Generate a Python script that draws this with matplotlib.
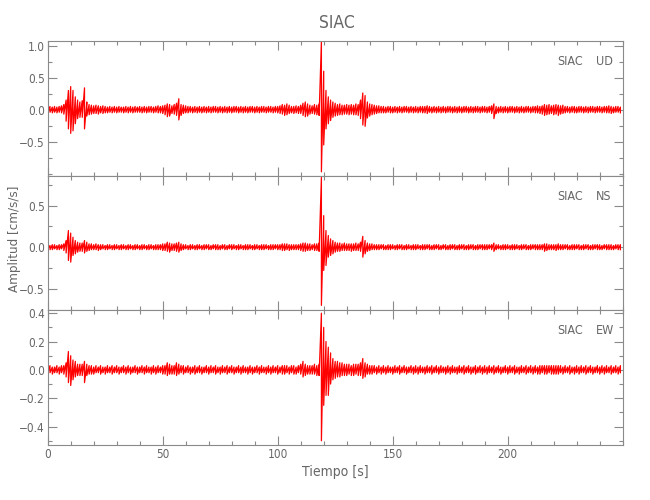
import numpy as np
import matplotlib.pyplot as plt
from matplotlib.ticker import MultipleLocator, FixedLocator

# registro de aceleracion, estacion SIAC (envolvente max/min por segundo)
tiempo = np.arange(0, 250, 1.0)

ud_max = [
    .04, .05, .04, .05, .04, .05, .06, .08, .15, .30,
    .36, .30, .20, .15, .12, .14, .34, .12, .08, .07,
    .06, .07, .06, .05, .06, .05, .04, .05, .04, .05,
    .04, .05, .04, .04, .05, .04, .05, .04, .05, .04,
    .05, .04, .05, .04, .05, .05, .04, .05, .06, .05,
    .06, .07, .09, .08, .06, .08, .10, .17, .08, .07,
    .06, .05, .05, .04, .05, .04, .05, .04, .05, .04,
    .05, .04, .05, .05, .04, .05, .04, .05, .04, .05,
    .04, .05, .05, .04, .05, .04, .05, .04, .05, .05,
    .04, .05, .04, .05, .05, .04, .05, .05, .04, .05,
    .05, .06, .08, .07, .09, .07, .05, .05, .06, .05,
    .07, .10, .12, .09, .07, .06, .08, .07, .09, 1.07,
    .60, .30, .20, .15, .12, .10, .08, .09, .07, .07,
    .08, .07, .08, .07, .09, .08, .15, .26, .22, .12,
    .09, .08, .07, .06, .06, .05, .05, .04, .05, .05,
    .04, .05, .04, .05, .04, .05, .05, .04, .05, .04,
    .05, .04, .05, .05, .05, .06, .05, .04, .05, .04,
    .05, .04, .05, .04, .05, .05, .04, .05, .04, .05,
    .04, .05, .05, .04, .05, .04, .05, .05, .04, .05,
    .05, .04, .05, .06, .09, .05, .04, .05, .04, .05,
    .04, .05, .05, .04, .05, .04, .05, .04, .05, .05,
    .04, .05, .05, .06, .05, .06, .08, .07, .08, .06,
    .07, .08, .07, .06, .07, .05, .05, .04, .05, .05,
    .04, .05, .05, .04, .05, .04, .05, .05, .04, .05,
    .05, .04, .05, .05, .06, .05, .04, .05, .05, .04,
]
ud_min = [
    -.04, -.04, -.05, -.04, -.05, -.04, -.05, -.07, -.18, -.30,
    -.37, -.33, -.22, -.14, -.12, -.12, -.30, -.10, -.08, -.07,
    -.06, -.06, -.07, -.05, -.06, -.05, -.05, -.04, -.05, -.04,
    -.05, -.04, -.04, -.05, -.04, -.05, -.04, -.05, -.04, -.04,
    -.04, -.05, -.04, -.05, -.04, -.04, -.05, -.04, -.05, -.05,
    -.06, -.08, -.11, -.10, -.06, -.07, -.09, -.16, -.09, -.06,
    -.05, -.05, -.04, -.05, -.04, -.05, -.04, -.05, -.04, -.05,
    -.04, -.05, -.04, -.04, -.05, -.04, -.05, -.04, -.05, -.04,
    -.05, -.04, -.04, -.05, -.04, -.05, -.04, -.05, -.04, -.04,
    -.05, -.04, -.05, -.04, -.04, -.05, -.04, -.04, -.05, -.04,
    -.05, -.06, -.07, -.09, -.08, -.06, -.05, -.06, -.05, -.06,
    -.06, -.09, -.11, -.10, -.07, -.06, -.07, -.08, -.09, -.97,
    -.55, -.30, -.22, -.17, -.12, -.10, -.09, -.08, -.08, -.07,
    -.07, -.08, -.07, -.08, -.08, -.09, -.14, -.24, -.26, -.13,
    -.10, -.08, -.07, -.06, -.05, -.05, -.05, -.05, -.04, -.05,
    -.05, -.04, -.05, -.04, -.05, -.04, -.04, -.05, -.04, -.05,
    -.04, -.05, -.04, -.05, -.05, -.06, -.04, -.05, -.04, -.05,
    -.04, -.05, -.04, -.05, -.04, -.04, -.05, -.04, -.05, -.04,
    -.05, -.04, -.04, -.05, -.04, -.05, -.04, -.04, -.05, -.04,
    -.04, -.05, -.04, -.06, -.14, -.06, -.05, -.04, -.05, -.04,
    -.05, -.04, -.04, -.05, -.04, -.05, -.04, -.05, -.04, -.04,
    -.05, -.04, -.05, -.05, -.06, -.07, -.09, -.08, -.07, -.06,
    -.08, -.07, -.09, -.07, -.06, -.05, -.04, -.05, -.04, -.05,
    -.05, -.04, -.04, -.05, -.04, -.05, -.04, -.04, -.05, -.04,
    -.04, -.05, -.04, -.05, -.05, -.06, -.05, -.04, -.04, -.05,
]

ns_max = [
    .03, .02, .03, .03, .02, .03, .03, .04, .08, .20,
    .17, .12, .08, .06, .05, .05, .08, .06, .04, .04,
    .03, .04, .03, .03, .03, .02, .03, .03, .02, .03,
    .03, .02, .03, .03, .02, .03, .03, .02, .03, .03,
    .02, .03, .03, .02, .03, .03, .02, .03, .03, .03,
    .04, .04, .06, .05, .04, .04, .05, .06, .04, .03,
    .03, .02, .03, .03, .02, .03, .03, .02, .03, .03,
    .03, .02, .03, .03, .03, .02, .03, .03, .02, .03,
    .03, .03, .02, .03, .03, .02, .03, .03, .03, .02,
    .03, .03, .02, .03, .03, .03, .02, .03, .03, .03,
    .03, .03, .04, .04, .04, .03, .03, .03, .03, .03,
    .04, .05, .05, .04, .04, .03, .04, .04, .05, .84,
    .38, .20, .14, .10, .08, .06, .05, .05, .04, .05,
    .04, .04, .04, .04, .05, .04, .06, .13, .08, .05,
    .04, .04, .03, .03, .03, .03, .03, .02, .03, .03,
    .03, .02, .03, .03, .03, .02, .03, .03, .02, .03,
    .03, .03, .02, .03, .03, .03, .03, .02, .03, .03,
    .03, .02, .03, .03, .02, .03, .03, .03, .02, .03,
    .03, .03, .02, .03, .03, .03, .02, .03, .03, .03,
    .03, .03, .03, .03, .05, .03, .03, .02, .03, .03,
    .03, .02, .03, .03, .03, .02, .03, .03, .03, .02,
    .03, .03, .03, .03, .03, .03, .04, .04, .03, .03,
    .03, .03, .04, .03, .03, .03, .03, .02, .03, .03,
    .03, .03, .02, .03, .03, .03, .02, .03, .03, .03,
    .03, .02, .03, .03, .03, .03, .02, .03, .03, .03,
]
ns_min = [
    -.02, -.03, -.03, -.02, -.03, -.03, -.02, -.04, -.07, -.16,
    -.18, -.10, -.08, -.06, -.05, -.05, -.07, -.05, -.04, -.03,
    -.03, -.03, -.04, -.03, -.02, -.03, -.03, -.02, -.03, -.03,
    -.02, -.03, -.03, -.02, -.03, -.03, -.02, -.03, -.03, -.02,
    -.03, -.03, -.02, -.03, -.03, -.02, -.03, -.03, -.03, -.03,
    -.04, -.04, -.05, -.06, -.04, -.04, -.05, -.06, -.04, -.03,
    -.02, -.03, -.03, -.02, -.03, -.03, -.02, -.03, -.03, -.02,
    -.03, -.03, -.02, -.03, -.03, -.03, -.02, -.03, -.03, -.02,
    -.03, -.02, -.03, -.03, -.02, -.03, -.03, -.03, -.02, -.03,
    -.03, -.02, -.03, -.03, -.03, -.02, -.03, -.03, -.03, -.02,
    -.03, -.03, -.04, -.04, -.03, -.04, -.03, -.03, -.03, -.03,
    -.04, -.05, -.05, -.04, -.04, -.03, -.04, -.04, -.05, -.70,
    -.28, -.22, -.12, -.10, -.08, -.06, -.05, -.05, -.04, -.04,
    -.04, -.04, -.05, -.04, -.04, -.04, -.05, -.12, -.08, -.05,
    -.04, -.03, -.03, -.03, -.03, -.02, -.03, -.03, -.03, -.03,
    -.02, -.03, -.03, -.02, -.03, -.03, -.03, -.02, -.03, -.03,
    -.03, -.02, -.03, -.03, -.03, -.02, -.03, -.03, -.03, -.02,
    -.03, -.03, -.02, -.03, -.03, -.03, -.02, -.03, -.03, -.03,
    -.02, -.03, -.03, -.03, -.02, -.03, -.03, -.03, -.02, -.03,
    -.03, -.03, -.02, -.03, -.05, -.03, -.02, -.03, -.03, -.03,
    -.02, -.03, -.03, -.03, -.02, -.03, -.03, -.02, -.03, -.03,
    -.03, -.02, -.03, -.03, -.03, -.03, -.05, -.04, -.03, -.03,
    -.03, -.04, -.03, -.03, -.03, -.02, -.03, -.03, -.03, -.03,
    -.02, -.03, -.03, -.03, -.02, -.03, -.03, -.03, -.02, -.03,
    -.03, -.03, -.02, -.03, -.03, -.03, -.03, -.02, -.03, -.03,
]

ew_max = [
    .02, .03, .02, .02, .03, .02, .03, .03, .05, .13,
    .10, .07, .06, .04, .04, .04, .06, .04, .03, .03,
    .02, .03, .02, .03, .02, .02, .03, .02, .03, .02,
    .03, .02, .02, .03, .02, .03, .02, .02, .03, .02,
    .02, .03, .02, .03, .02, .02, .03, .02, .03, .02,
    .03, .03, .05, .04, .03, .03, .05, .04, .03, .03,
    .02, .03, .02, .02, .03, .02, .03, .02, .02, .03,
    .02, .03, .02, .03, .02, .02, .03, .02, .03, .02,
    .03, .02, .02, .03, .02, .03, .02, .02, .03, .02,
    .02, .03, .02, .03, .02, .02, .03, .02, .03, .02,
    .03, .02, .03, .03, .03, .02, .03, .03, .02, .03,
    .04, .06, .04, .03, .03, .03, .04, .03, .04, .40,
    .30, .20, .16, .12, .08, .06, .06, .05, .05, .04,
    .04, .04, .03, .04, .04, .04, .05, .08, .05, .04,
    .03, .03, .03, .02, .03, .02, .03, .02, .03, .02,
    .02, .03, .02, .03, .02, .03, .02, .02, .03, .02,
    .03, .02, .03, .02, .02, .03, .02, .03, .02, .03,
    .02, .03, .02, .02, .03, .02, .03, .02, .02, .03,
    .02, .03, .02, .03, .02, .02, .03, .02, .03, .02,
    .03, .02, .03, .02, .03, .02, .03, .02, .02, .03,
    .02, .03, .02, .03, .02, .02, .03, .02, .03, .02,
    .03, .02, .03, .02, .03, .03, .03, .03, .03, .03,
    .03, .03, .03, .03, .02, .03, .02, .03, .02, .02,
    .03, .02, .03, .02, .03, .02, .03, .02, .02, .03,
    .02, .03, .02, .03, .02, .03, .02, .03, .02, .03,
]
ew_min = [
    -.02, -.02, -.03, -.02, -.02, -.03, -.02, -.03, -.05, -.09,
    -.11, -.07, -.05, -.04, -.04, -.04, -.09, -.04, -.03, -.03,
    -.03, -.02, -.02, -.03, -.02, -.03, -.02, -.02, -.03, -.02,
    -.02, -.03, -.02, -.02, -.03, -.02, -.03, -.02, -.02, -.03,
    -.02, -.02, -.03, -.02, -.02, -.03, -.02, -.03, -.02, -.02,
    -.03, -.03, -.04, -.03, -.03, -.03, -.04, -.03, -.02, -.03,
    -.02, -.02, -.03, -.02, -.03, -.02, -.02, -.03, -.02, -.02,
    -.03, -.02, -.02, -.03, -.02, -.03, -.02, -.02, -.03, -.02,
    -.02, -.03, -.02, -.02, -.03, -.02, -.02, -.03, -.02, -.03,
    -.02, -.02, -.03, -.02, -.02, -.03, -.02, -.03, -.02, -.02,
    -.03, -.02, -.03, -.03, -.02, -.03, -.02, -.03, -.03, -.02,
    -.03, -.05, -.04, -.03, -.03, -.03, -.03, -.04, -.04, -.50,
    -.25, -.18, -.18, -.10, -.07, -.06, -.05, -.05, -.04, -.04,
    -.04, -.03, -.04, -.04, -.03, -.04, -.04, -.06, -.05, -.03,
    -.03, -.03, -.02, -.03, -.02, -.03, -.02, -.03, -.02, -.02,
    -.03, -.02, -.02, -.03, -.02, -.02, -.03, -.02, -.02, -.03,
    -.02, -.03, -.02, -.02, -.03, -.02, -.02, -.03, -.02, -.02,
    -.03, -.02, -.02, -.03, -.02, -.03, -.02, -.02, -.03, -.02,
    -.02, -.03, -.02, -.02, -.03, -.02, -.03, -.02, -.02, -.03,
    -.02, -.03, -.02, -.02, -.03, -.02, -.02, -.03, -.02, -.02,
    -.03, -.02, -.02, -.03, -.02, -.03, -.02, -.02, -.03, -.02,
    -.02, -.03, -.02, -.03, -.03, -.02, -.03, -.03, -.02, -.03,
    -.03, -.03, -.03, -.02, -.03, -.02, -.02, -.03, -.02, -.03,
    -.02, -.03, -.02, -.02, -.03, -.02, -.02, -.03, -.02, -.02,
    -.03, -.02, -.03, -.02, -.02, -.03, -.02, -.02, -.03, -.02,
]

estacion = "SIAC"
componentes = ["UD", "NS", "EW"]
limites_y = [(-1.03, 1.07), (-0.76, 0.86), (-0.53, 0.42)]
ticks_y = [[-0.5, 0.0, 0.5, 1.0], [-0.5, 0.0, 0.5], [-0.4, -0.2, 0.0, 0.2, 0.4]]
menor_y = [0.25, 0.25, 0.1]
ticks_x = [0, 50, 100, 150, 200]
trazas = [(ud_max, ud_min), (ns_max, ns_min), (ew_max, ew_min)]

gris = "#8a8a8a"
texto = "#666666"
plt.rcParams["font.family"] = ["DejaVu Sans"]
plt.rcParams["font.stretch"] = "condensed"
plt.rcParams["font.weight"] = "light"

fig = plt.figure(figsize=(6.5, 5), dpi=100)
izq, ancho, alto = 0.0734, 0.8846, 0.2693
bases = [0.11 + 2 * alto, 0.11 + alto, 0.11]

for i, comp in enumerate(componentes):
    ax = fig.add_axes([izq, bases[i], ancho, alto])
    hi, lo = trazas[i]
    # zigzag max/min para que se vea como el sismograma
    x = np.repeat(tiempo, 2)
    y = np.column_stack([hi, lo]).ravel()
    ax.plot(x, y, color="red", lw=0.9)

    ax.set_xlim(0, 250)
    ax.set_ylim(*limites_y[i])
    ax.yaxis.set_major_locator(FixedLocator(ticks_y[i]))
    ax.yaxis.set_minor_locator(MultipleLocator(menor_y[i]))
    ax.set_yticklabels([f"{v:.1f}".replace("-", "\u2212") for v in ticks_y[i]])
    ax.xaxis.set_major_locator(FixedLocator(ticks_x))
    ax.xaxis.set_minor_locator(MultipleLocator(10))
    ax.tick_params(which="both", direction="in", top=True, right=True,
                   color=gris, labelcolor=texto, labelsize=8.5, width=0.8, pad=2)
    ax.tick_params(which="major", length=6.5)
    ax.tick_params(which="minor", length=3.2)
    for s in ax.spines.values():
        s.set_color(gris)
        s.set_linewidth(0.8)
    if i < 2:
        ax.tick_params(labelbottom=False)

    ax.text(0.931, 0.848, estacion, transform=ax.transAxes, ha="right", va="center",
            fontsize=9, color=texto)
    ax.text(0.954, 0.848, comp, transform=ax.transAxes, ha="left", va="center",
            fontsize=9, color=texto)

    if i == 2:
        ax.set_xlabel("Tiempo [s]", fontsize=10, color=texto, labelpad=3)

fig.text(0.518, 0.954, estacion, ha="center", va="center", fontsize=12.5, color=texto)
fig.text(0.023, 0.522, "Amplitud [cm/s/s]", rotation=90, ha="center", va="center",
         fontsize=9.5, color=texto)

fig.savefig("out.png", dpi=100)
